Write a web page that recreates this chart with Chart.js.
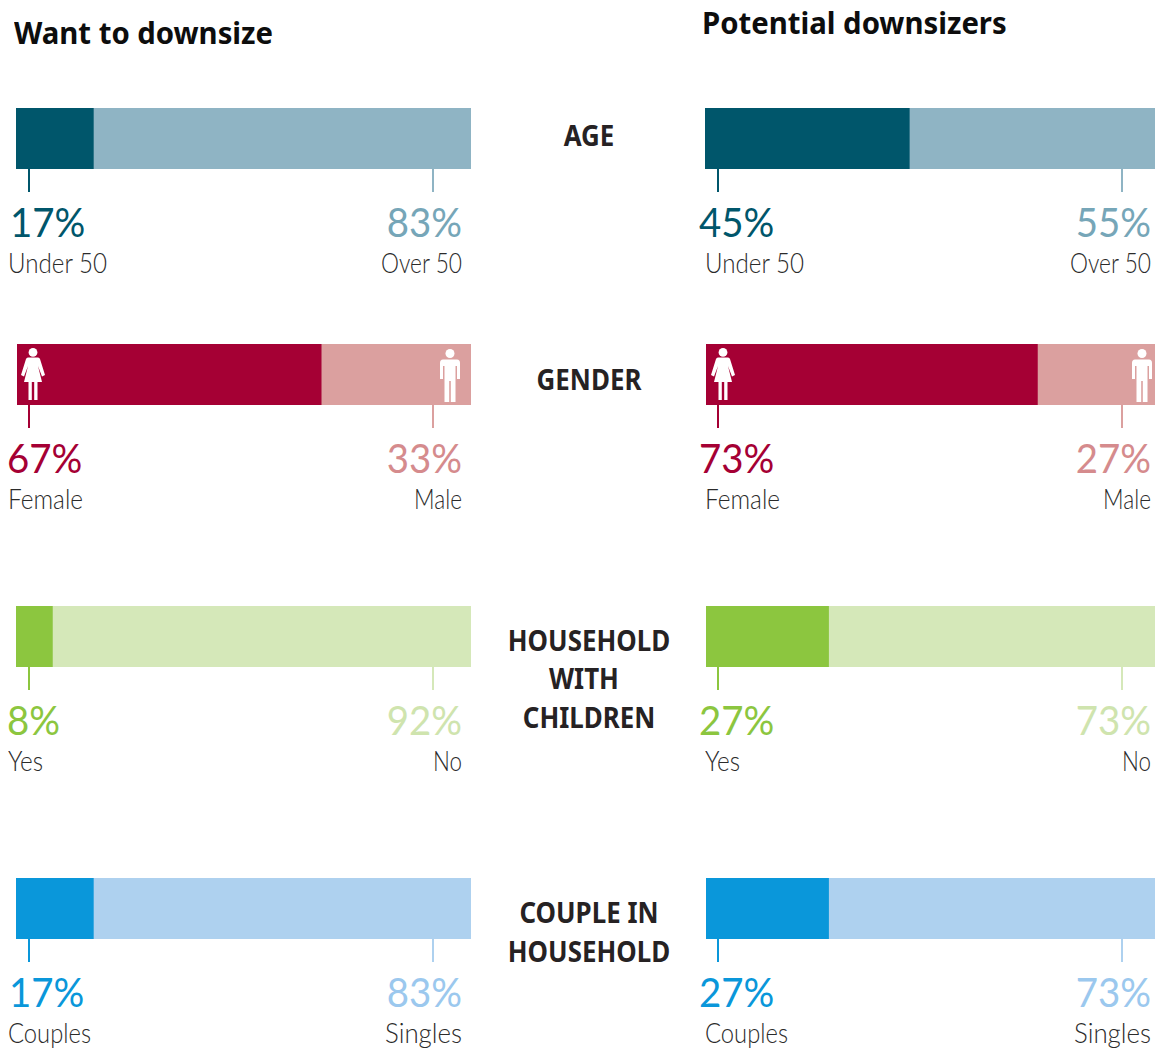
<!DOCTYPE html>
<html>
<head>
<meta charset="utf-8">
<title>Downsizers</title>
<script src="https://cdn.jsdelivr.net/npm/chart.js@4"></script>
<style>
  html, body { margin: 0; padding: 0; background: #fff; }
  #page { position: relative; width: 1155px; height: 1048px; overflow: hidden; }
  #page canvas { position: absolute; }
  .txt { position: absolute; white-space: pre; line-height: 1; }
  .title { font: 700 31px "Noto Sans", sans-serif; color: #0d0d0d; margin-top: -1px; transform: scaleX(0.945); transform-origin: left center; }
  .cat { font: 700 29px "Noto Sans", sans-serif; color: #262223; margin-top: -2px; transform: translateX(-50%) scaleX(0.893); }
  .pct { font: 400 40px "Lato", sans-serif; margin-top: -1px; }
  .sub { font: 300 27px "Lato", sans-serif; color: #2b2b2b; margin-top: -1px; }
  .pct.left { transform: scaleX(0.96); transform-origin: left center; }
  .pct.right { transform: translateX(-100%) scaleX(0.96); transform-origin: right center; }
  .sub.left { transform-origin: left center; }
  .sub.right { transform-origin: right center; }
  svg.icon { position: absolute; fill: #fff; }
</style>
</head>
<body>
<div id="page"></div>
<svg width="0" height="0" style="position:absolute">
  <symbol id="female" viewBox="0 0 24 52">
    <circle cx="12" cy="4.4" r="4.4"/>
    <path d="M7 9.5 H17 Q18.5 9.5 19 11 L24 27 L21 28.5 L17 18 L21 34 H16.5 V52 H13.2 V34 H10.8 V52 H7.5 V34 H3 L7 18 L3 28.5 L0 27 L5 11 Q5.5 9.5 7 9.5 Z"/>
  </symbol>
  <symbol id="male" viewBox="0 0 20 53">
    <circle cx="10" cy="4.5" r="4.5"/>
    <path d="M3 10.5 H17 Q20 10.5 20 14 V30 H17 V17 H15.5 V53 H10.8 V32 H9.2 V53 H4.5 V17 H3 V30 H0 V14 Q0 10.5 3 10.5 Z"/>
  </symbol>
</svg>
<script>
// 데이터
const panelTitles = ['Want to downsize', 'Potential downsizers'];
const categories = [['AGE'], ['GENDER'], ['HOUSEHOLD', 'WITH', 'CHILDREN'], ['COUPLE IN', 'HOUSEHOLD']];
const leftLabels = ['Under 50', 'Female', 'Yes', 'Couples'];
const rightLabels = ['Over 50', 'Male', 'No', 'Singles'];
const wantFirst = [17, 67, 8, 17];
const wantSecond = [83, 33, 92, 83];
const potentialFirst = [45, 73, 27, 27];
const potentialSecond = [55, 27, 73, 73];

// 색상
const darkColors = ['#00566b', '#a50034', '#8cc63f', '#0a97da'];
const lightColors = ['#8fb4c4', '#dba09f', '#d5e8b9', '#aed1ef'];
const lightText = ['#76a6b8', '#d58b8d', '#cfe4ae', '#9bc8ee'];

// 레이아웃 (오른쪽 막대는 페이지 끝에서 잘린다)
const rowTops = [108, 344, 606, 878];
const rightBarWidth = 454;
const barHeight = 61;
const tickLength = 23;
const leftLabelWidths = [99, 75, 35, 83];
const rightLabelWidths = [81, 48, 29, 77];
const page = document.getElementById('page');

function addText(text, x, centerY, cls, color) {
  const el = document.createElement('div');
  el.className = 'txt ' + cls;
  el.textContent = text;
  el.style.left = x + 'px';
  if (color) el.style.color = color;
  page.appendChild(el);
  el.style.top = (centerY - el.offsetHeight / 2) + 'px';
  return el;
}

// 보조 라벨은 원본 폭에 맞춰 가로로 줄인다
function addSub(text, x, centerY, side, targetWidth) {
  const el = addText(text, x, centerY, 'sub ' + side);
  const scale = targetWidth / el.getBoundingClientRect().width;
  el.style.transform = (side === 'right' ? 'translateX(-100%) ' : '') + 'scaleX(' + scale + ')';
}

// 막대 아래 눈금선
const tickPlugin = {
  id: 'ticks',
  afterDraw(chart, args, opts) {
    const ctx = chart.ctx;
    const area = chart.chartArea;
    ctx.save();
    ctx.lineWidth = 2;
    opts.marks.forEach(m => {
      ctx.strokeStyle = m.color;
      ctx.beginPath();
      ctx.moveTo(m.x, area.bottom);
      ctx.lineTo(m.x, area.bottom + tickLength);
      ctx.stroke();
    });
    ctx.restore();
  }
};

function addBar(left, width, top, first, second, row, tickA, tickB) {
  const canvas = document.createElement('canvas');
  canvas.width = width;
  canvas.height = barHeight + tickLength;
  canvas.style.left = left + 'px';
  canvas.style.top = top + 'px';
  page.appendChild(canvas);
  new Chart(canvas.getContext('2d'), {
    type: 'bar',
    data: {
      labels: [categories[row].join(' ')],
      datasets: [
        { label: leftLabels[row], data: [first], backgroundColor: darkColors[row] },
        { label: rightLabels[row], data: [second], backgroundColor: lightColors[row] }
      ]
    },
    options: {
      indexAxis: 'y',
      responsive: false,
      animation: false,
      layout: { padding: { bottom: tickLength } },
      barPercentage: 1,
      categoryPercentage: 1,
      scales: {
        x: { display: false, stacked: true, min: 0, max: 100 },
        y: { display: false, stacked: true }
      },
      plugins: {
        legend: { display: false },
        tooltip: { enabled: false },
        ticks: {
          marks: [
            { x: tickA - left, color: darkColors[row] },
            { x: tickB - left, color: lightColors[row] }
          ]
        }
      }
    },
    plugins: [tickPlugin]
  });
}

function addIcon(name, centerX, top, w, h) {
  const svg = document.createElementNS('http://www.w3.org/2000/svg', 'svg');
  svg.setAttribute('class', 'icon');
  svg.setAttribute('width', w);
  svg.setAttribute('height', h);
  svg.style.left = (centerX - w / 2) + 'px';
  svg.style.top = top + 'px';
  const use = document.createElementNS('http://www.w3.org/2000/svg', 'use');
  use.setAttribute('href', '#' + name);
  svg.appendChild(use);
  page.appendChild(svg);
}

addText(panelTitles[0], 14, 33, 'title');
addText(panelTitles[1], 702, 23, 'title');

// 패널별 막대와 라벨
const wantPctX = [10, 7, 7, 9];
rowTops.forEach((top, i) => {
  const leftX = i === 1 ? 17 : 16;
  const rightX = i === 0 ? 705 : 706;
  addBar(leftX, 471 - leftX, top, wantFirst[i], wantSecond[i], i, 29, 433);
  addBar(rightX, rightBarWidth, top, potentialFirst[i], potentialSecond[i], i, 718, 1122);

  const pctY = top + 115;
  const subY = top + 155;
  addText(wantFirst[i] + '%', wantPctX[i], pctY, 'pct left', darkColors[i]);
  addText(wantSecond[i] + '%', 462, pctY, 'pct right', lightText[i]);
  addSub(leftLabels[i], 8, subY, 'left', leftLabelWidths[i]);
  addSub(rightLabels[i], 462, subY, 'right', rightLabelWidths[i]);

  addText(potentialFirst[i] + '%', 699, pctY, 'pct left', darkColors[i]);
  addText(potentialSecond[i] + '%', 1151, pctY, 'pct right', lightText[i]);
  addSub(leftLabels[i], 705, subY, 'left', leftLabelWidths[i]);
  addSub(rightLabels[i], 1151, subY, 'right', rightLabelWidths[i]);
});

// 가운데 분류명
const catCenters = [[136], [380], [641, 679, 718], [913, 952]];
categories.forEach((lines, i) => {
  lines.forEach((line, j) => {
    addText(line, line === 'WITH' ? 584 : 589, catCenters[i][j], 'cat');
  });
});

addIcon('female', 33, 348, 24, 52);
addIcon('male', 450, 349, 20, 53);
addIcon('female', 723, 348, 24, 52);
addIcon('male', 1142, 349, 20, 53);
</script>
</body>
</html>
